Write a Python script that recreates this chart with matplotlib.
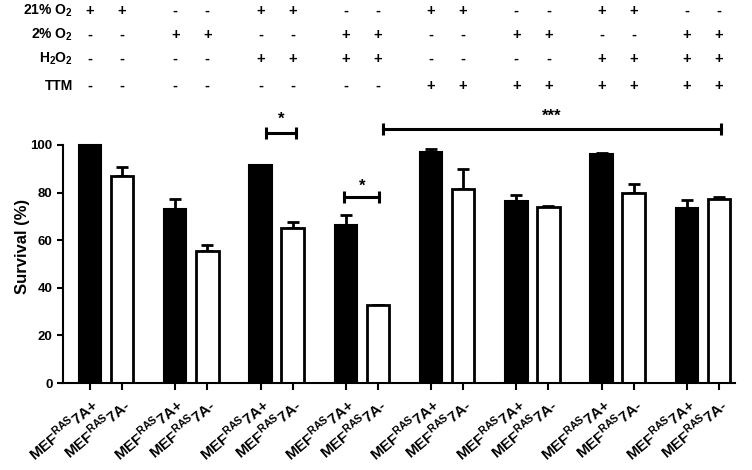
import matplotlib.pyplot as plt
import matplotlib.transforms as mtransforms
import numpy as np

plt.rcParams['font.family'] = ['Liberation Sans', 'DejaVu Sans']
plt.rcParams['font.weight'] = 'bold'
plt.rcParams['mathtext.fontset'] = 'custom'
plt.rcParams['mathtext.rm'] = 'Liberation Sans'
plt.rcParams['mathtext.bf'] = 'Liberation Sans:bold'

# data
plus_vals = [100, 73, 91.5, 66.5, 97, 76.5, 96.3, 73.5]
plus_err = [0, 4.5, 0, 4, 1.4, 2.5, 0.3, 3.3]
minus_vals = [86.8, 55.5, 65.3, 32.8, 81.5, 73.8, 80, 77.3]
minus_err = [3.8, 2.4, 2.4, 0, 8.5, 0.6, 3.8, 0.7]
cond_labels = ['21% O$_2$', '2% O$_2$', 'H$_2$O$_2$', 'TTM']
cond_signs = [
    ['+', '-', '+', '-', '+', '-', '+', '-'],
    ['-', '+', '-', '+', '-', '+', '-', '+'],
    ['-', '-', '+', '+', '-', '-', '+', '+'],
    ['-', '-', '-', '-', '+', '+', '+', '+'],
]
tick_plus = 'MEF$^{\\mathrm{RAS}}$7A+'
tick_minus = 'MEF$^{\\mathrm{RAS}}$7A-'

fig = plt.figure(figsize=(7.52, 4.7), dpi=100)
ax = fig.add_axes([0.0838, 0.185, 0.8936, 0.5825])

step = 2.66
xg = np.arange(len(plus_vals)) * step
xp = xg
xm = xg + 1
w = 0.7

ax.bar(xp, plus_vals, w, color='black', edgecolor='black', linewidth=1.5, zorder=2)
ax.bar(xm, minus_vals, w, color='white', edgecolor='black', linewidth=2, zorder=2)
ax.errorbar(xp, plus_vals, yerr=[np.zeros(8), plus_err], fmt='none', ecolor='black',
            elinewidth=2, capsize=4.5, capthick=2, zorder=1)
ax.errorbar(xm, minus_vals, yerr=[np.zeros(8), minus_err], fmt='none', ecolor='black',
            elinewidth=2, capsize=4.5, capthick=2, zorder=1)

ax.set_xlim(-0.84, xm[-1] + 0.5)
ax.set_ylim(0, 115)
ax.spines['left'].set_bounds(0, 100)
ax.spines['top'].set_visible(False)
ax.spines['right'].set_visible(False)
ax.spines['left'].set_linewidth(1.5)
ax.spines['bottom'].set_linewidth(1.5)
ax.set_yticks([0, 20, 40, 60, 80, 100])
ax.tick_params(axis='y', labelsize=9.5, width=1.5, length=4)
ax.tick_params(axis='x', width=1.5, length=5)
ax.set_ylabel('Survival (%)', fontsize=12, fontweight='bold', labelpad=0)

xt = np.sort(np.concatenate([xp, xm]))
ax.set_xticks(xt)
ax.set_xticklabels([tick_plus, tick_minus] * 8, rotation=40, ha='right',
                   rotation_mode='anchor', fontsize=11, fontweight='bold')
for lbl in ax.get_xticklabels():
    lbl.set_va('top')

# significance brackets
def bracket(x1, x2, y, text, ty):
    ax.plot([x1, x2], [y, y], color='black', lw=2.2, marker='|', markersize=9,
            mew=2.2, clip_on=False)
    ax.text((x1 + x2) / 2, ty, text, ha='center', va='center', fontsize=12,
            fontweight='bold')

bracket(xp[2] + 0.18, xm[2] + 0.1, 105, '*', 111)
bracket(xp[3] - 0.05, xm[3] + 0.05, 78, '*', 82.5)
bracket(xm[3] + 0.15, xm[7] + 0.05, 106.7, '***', 112)

# condition table on top
trans = mtransforms.blended_transform_factory(ax.transData, fig.transFigure)
row_y = [1 - 11 / 470, 1 - 35 / 470, 1 - 59 / 470, 1 - 86 / 470]
for r, (lab, signs) in enumerate(zip(cond_labels, cond_signs)):
    fig.text(73 / 752, row_y[r], lab, ha='right', va='center', fontsize=10,
             fontweight='bold')
    for g, s in enumerate(signs):
        for x in (xp[g], xm[g]):
            ax.text(x, row_y[r], s, transform=trans, ha='center', va='center',
                    fontsize=10.5, fontweight='bold')

fig.savefig('out.png', dpi=100)
